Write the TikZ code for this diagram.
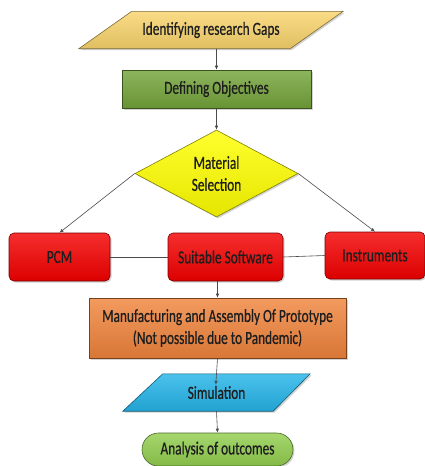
\documentclass[tikz,border=0pt]{standalone}
\usepackage{fontspec}
\setmainfont{Carlito}[FakeStretch=0.72,FakeBold=0.6]
\usetikzlibrary{arrows.meta,shapes.geometric,shapes.misc,shadows,backgrounds}
\definecolor{goldA}{RGB}{249,212,108}
\definecolor{greenA}{RGB}{116,164,58}
\definecolor{yellowA}{RGB}{255,255,0}
\definecolor{redA}{RGB}{244,0,0}
\definecolor{orangeA}{RGB}{240,132,60}
\definecolor{cyanA}{RGB}{36,180,232}
\definecolor{limeA}{RGB}{146,206,78}
\definecolor{ink}{RGB}{30,30,30}
\tikzset{
  txt/.style={
    text=ink,
    align=center,
    inner sep=2pt,
    font=\fontsize{18.5}{22}\selectfont
  },
  skin/.style={
    draw=#1!50!black,
    line width=0.6pt,
    top color=#1!82!white,
    bottom color=#1!90!black,
    drop shadow={opacity=0.35, shadow xshift=1.5pt, shadow yshift=-1.5pt}
  },
  block/.style={txt, skin=#1, rectangle},
  card/.style={txt, skin=#1, rectangle, rounded corners=5pt},
  decision/.style={txt, skin=#1, diamond, aspect=1.8, inner sep=0pt},
  terminal/.style={txt, skin=#1, rounded rectangle},
  arrow/.style={-{Latex[length=4pt,width=3.5pt]}, line width=0.6pt, draw=ink!80},
  link/.style={line width=0.6pt, draw=ink!80},
}
\begin{document}
\begin{tikzpicture}[x=1pt,y=-1pt]
\useasboundingbox (0,0) rectangle (425,466);

\node[txt, minimum width=264pt, minimum height=37pt] (gaps) at (211,30) {Identifying research Gaps};

\node[block=greenA, minimum width=189pt, minimum height=38pt] (obj) at (216.5,89) {Defining Objectives};

\node[decision=yellowA, minimum width=163pt, minimum height=87pt] (mat) at (216.5,173.5) {Material\\Selection};

\node[card=redA, minimum width=101pt, minimum height=48pt] (pcm) at (59.5,257) {PCM};
\node[card=redA, minimum width=115pt, minimum height=48pt] (soft) at (225.5,257) {Suitable Software};
\node[card=redA, minimum width=100pt, minimum height=47pt] (instr) at (375,255.5) {Instruments};

\node[block=orangeA, minimum width=257pt, minimum height=60pt] (manuf) at (217.5,328) {
  Manufacturing and Assembly Of Prototype\\
  (Not possible due to Pandemic)
};

\node[txt, minimum width=187pt, minimum height=37pt] (sim) at (216.5,392.5) {Simulation};

\node[terminal=limeA, minimum width=155pt, minimum height=33pt] (ana) at (217.5,449.5) {Analysis of outcomes};

\begin{scope}[on background layer]
  \draw[skin=goldA] ([xshift=53pt]gaps.north west) -- (gaps.north east)
    -- ([xshift=-53pt]gaps.south east) -- (gaps.south west) -- cycle;
  \draw[skin=cyanA] ([xshift=40pt]sim.north west) -- (sim.north east)
    -- ([xshift=-37pt]sim.south east) -- (sim.south west) -- cycle;
\end{scope}

\draw[arrow] (obj.north |- gaps.south) -- (obj.north);
\draw[arrow] (obj.south) -- (mat.north);
\draw[arrow] (mat.west) -- (pcm.north);
\draw[arrow] (mat.east) -- (instr.north);
\draw[link] (pcm.east) -- (soft.west);
\draw[link] (soft.east) -- (instr.west);
\draw[arrow] (manuf.north |- soft.south) -- (manuf.north);
\draw[arrow, shorten >=-11pt] (manuf.south) -- (sim.north);
\draw[arrow] (sim.south) -- (ana.north);

\end{tikzpicture}
\end{document}
